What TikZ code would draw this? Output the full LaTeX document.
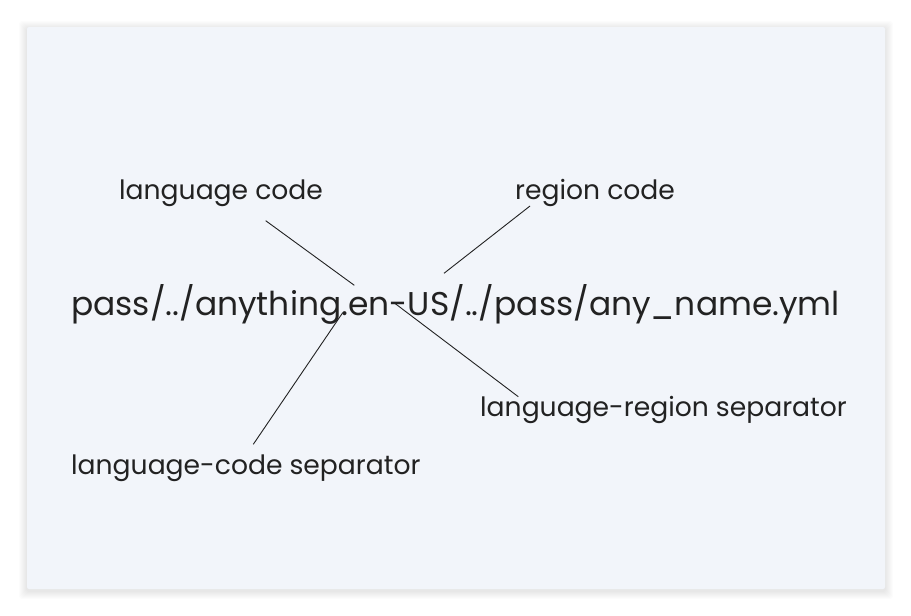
\documentclass[tikz,border=0pt]{standalone}
\usepackage{fontspec}
\setmainfont{Poppins}
\usetikzlibrary{positioning}
\definecolor{panelbg}{HTML}{F2F5FA}
\definecolor{ink}{HTML}{222222}

\begin{document}
\begin{tikzpicture}[x=1pt, y=-1pt,
  label/.style={anchor=base west, inner sep=0pt, text=ink, font=\fontsize{26.6}{30}\selectfont},
  path/.style={anchor=base west, inner sep=0pt, text=ink, font=\fontsize{32.9}{36}\selectfont},
  pointer/.style={draw=ink, line width=0.9pt}]
\useasboundingbox (0,0) rectangle (911,616);
% soft shadow under the panel
\foreach \s in {1,...,8}
  \fill[black, opacity=0.012, rounded corners=3pt] (27-\s,27-\s+2) rectangle (885+\s,589+\s+2);
\fill[panelbg, rounded corners=2pt] (27,27) rectangle (885,589);
% texts
\node[path] (fname) at (71,315) {pass/../anything.en-US/../pass/any\_name.yml};
\node[label] (lang) at (119,199) {language code};
\node[label] (region) at (515,199) {region code};
\node[label] (langsep) at (71,474) {language-code separator};
\node[label] (regsep) at (480,416) {language-region separator};
% pointer ends
\coordinate (lang-a) at (265.7,220.7);   \coordinate (lang-b) at (354.3,285.3);
\coordinate (region-a) at (530,206);     \coordinate (region-b) at (444,273.3);
\coordinate (langsep-a) at (253.3,444.3); \coordinate (langsep-b) at (342.7,312.7);
\coordinate (regsep-a) at (518.3,396.7); \coordinate (regsep-b) at (394,302.7);
\draw[pointer] (lang-a) -- (lang-b);
\draw[pointer] (region-a) -- (region-b);
\draw[pointer] (langsep-a) -- (langsep-b);
\draw[pointer] (regsep-a) -- (regsep-b);
\end{tikzpicture}
\end{document}
